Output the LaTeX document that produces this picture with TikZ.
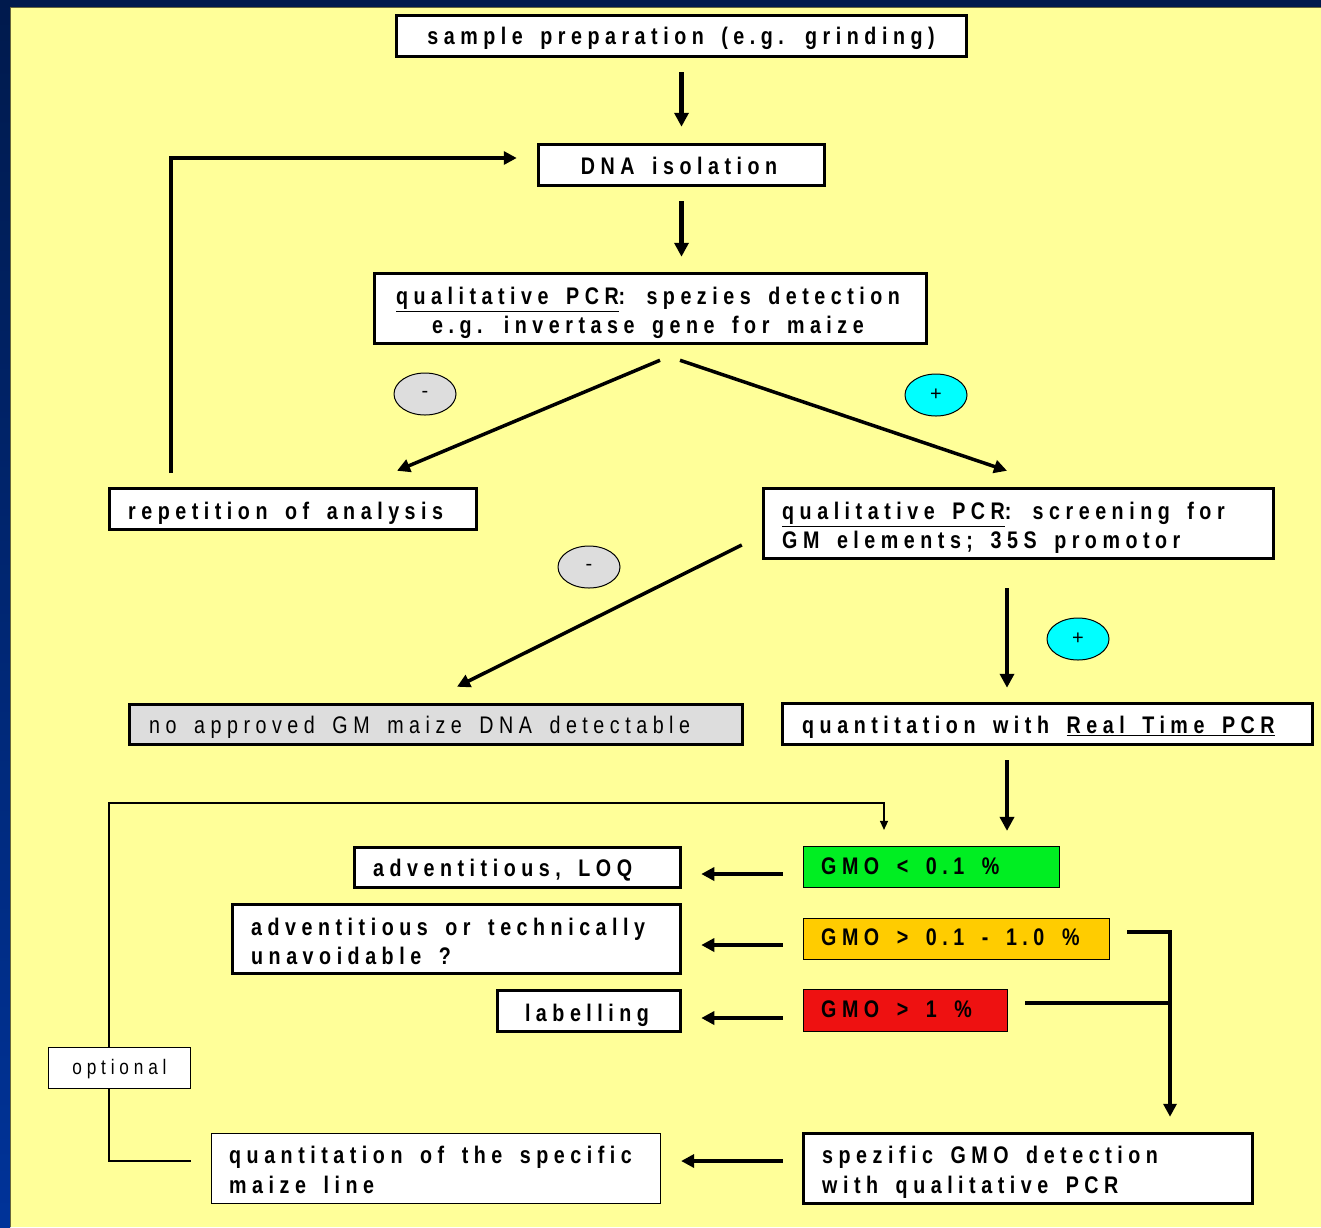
\documentclass[tikz,border=0pt]{standalone}
\usepackage{fontspec}
\setmainfont{Liberation Sans}
\newfontfamily\lsp[FakeStretch=0.82,LetterSpace=23,WordSpace=1.6]{Liberation Sans}
\usetikzlibrary{arrows.meta,shapes.geometric}
\definecolor{bgyellow}{HTML}{FFFF99}
\definecolor{navy}{HTML}{001A4D}
\definecolor{bandblue}{HTML}{003399}
\definecolor{ggreen}{HTML}{00EE22}
\definecolor{gorange}{HTML}{FFCC00}
\definecolor{gred}{HTML}{EE1111}
\definecolor{lgray}{HTML}{DDDDDD}
\definecolor{pcyan}{HTML}{00FFFF}
\tikzset{
  thickbox/.style={draw, line width=3.5pt, fill=white, inner sep=0pt},
  thinbox/.style={draw, line width=1.2pt, fill=white, inner sep=0pt},
  txt/.style={inner sep=0pt, anchor=base west, font=\lsp\bfseries\fontsize{24}{29}\selectfont},
  ctxt/.style={txt, anchor=base},
  rtxt/.style={txt, font=\lsp\fontsize{24}{29}\selectfont},
  sign/.style={ellipse, draw, line width=1pt, minimum width=62pt, minimum height=42pt, inner sep=0pt, font=\fontsize{20}{22}\selectfont},
  arr/.style={line width=4.5pt, -{Triangle[length=14pt,width=14pt]}},
  arrm/.style={line width=3.5pt, -{Triangle[length=13pt,width=13pt]}},
  plainline/.style={line width=3.5pt},
  thinline/.style={line width=1.3pt},
  thinarr/.style={line width=1.3pt, -{Triangle[length=9pt,width=8pt]}},
}
\begin{document}
\begin{tikzpicture}[x=1pt,y=-1pt]
\useasboundingbox (0,0) rectangle (1321,1227);
% background
\fill[bgyellow] (0,0) rectangle (1321,1227);
\fill[navy] (0,0) rectangle (1321,7);
\shade[top color=navy, bottom color=bandblue] (0,0) rectangle (10,1227);
\draw[line width=1pt, color=black!60!bgyellow] (10.5,1227) -- (10.5,7.5) -- (1321,7.5);

% boxes
\node[thickbox, minimum width=570pt, minimum height=41pt] (s) at (681.5,36) {};
\node[thickbox, minimum width=286pt, minimum height=41pt] (d) at (681.5,165) {};
\node[thickbox, minimum width=552pt, minimum height=70pt] (q1) at (650.5,308.5) {};
\node[thickbox, minimum width=367pt, minimum height=41pt] (rep) at (293,509) {};
\node[thickbox, minimum width=510pt, minimum height=70pt] (q2) at (1018.5,523.5) {};
\node[thickbox, fill=lgray, minimum width=613pt, minimum height=40pt] (no) at (436,724.5) {};
\node[thickbox, minimum width=530pt, minimum height=41pt] (rt) at (1047.5,724) {};
\node[thinbox, fill=ggreen, minimum width=256pt, minimum height=41pt] (g1) at (931.5,867) {};
\node[thinbox, fill=gorange, minimum width=306pt, minimum height=41pt] (g2) at (956.5,939) {};
\node[thinbox, fill=gred, minimum width=204pt, minimum height=42pt] (g3) at (905.5,1010.5) {};
\node[thickbox, minimum width=326pt, minimum height=40pt] (a1) at (517.5,867.5) {};
\node[thickbox, minimum width=448pt, minimum height=69pt] (a2) at (456.5,939) {};
\node[thickbox, minimum width=183pt, minimum height=41pt] (lab) at (589,1011) {};
\node[thinbox, minimum width=142pt, minimum height=41pt] (opt) at (119.5,1068) {};
\node[thinbox, minimum width=449pt, minimum height=70pt] (qs) at (436,1168.5) {};
\node[thickbox, minimum width=449pt, minimum height=70pt] (sp) at (1028,1168.5) {};

% texts
\node[ctxt] (ts) at (681,44) {sample preparation (e.g. grinding)};
\node[ctxt] (td) at (679,174.5) {DNA isolation};
\node[ctxt] (tq1a) at (648,304.5) {\underline{qualitative PCR}: spezies detection};
\node[ctxt] (tq1b) at (648,333.5) {e.g. invertase gene for maize};
\node[txt] (trep) at (128,519.5) {repetition of analysis};
\node[txt] (tq2a) at (782,519.5) {\underline{qualitative PCR}: screening for};
\node[txt] (tq2b) at (782,548.5) {GM elements; 35S promotor};
\node[rtxt] (tno) at (149,733.5) {no approved GM maize DNA detectable};
\node[txt] (trt) at (802,733.5) {quantitation with \underline{Real Time PCR}};
\node[txt] (tg1) at (821,874.5) {GMO < 0.1 \%};
\node[txt] (tg2) at (821,945.5) {GMO > 0.1 - 1.0 \%};
\node[txt] (tg3) at (821,1017.5) {GMO > 1 \%};
\node[txt] (ta1) at (373,876.5) {adventitious, LOQ};
\node[txt] (ta2a) at (251,935.5) {adventitious or technically};
\node[txt] (ta2b) at (251,964.5) {unavoidable ?};
\node[ctxt] (tlab) at (587,1021.5) {labelling};
\node[ctxt, font=\lsp\fontsize{21}{25}\selectfont] (topt) at (119.5,1074.5) {optional};
\node[txt] (tqsa) at (229,1163.5) {quantitation of the specific};
\node[txt] (tqsb) at (229,1193.5) {maize line};
\node[txt] (tspa) at (822,1163.5) {spezific GMO detection};
\node[txt] (tspb) at (822,1193.5) {with qualitative PCR};

% signs
\node[sign, fill=lgray] (m1) at (425,394) {-};
\node[sign, fill=pcyan] (p1) at (936,395) {+};
\node[sign, fill=lgray] (m2) at (589,567) {-};
\node[sign, fill=pcyan] (p2) at (1078,639) {+};

% connectors
\draw[arr] ([yshift=-14pt]s.south) -- ([yshift=16pt]d.north);
\draw[arr] ([yshift=-14pt]d.south) -- ([xshift=31pt,yshift=15pt]q1.north);
\coordinate (fb) at (171,473);
\draw[arrm] (fb) |- ([xshift=-20pt,yshift=7pt]d.west);
\draw[arrm] ([xshift=9.5pt,yshift=-15pt]q1.south) -- ([xshift=104pt,yshift=16pt]rep.north);
\draw[arrm] ([xshift=29.5pt,yshift=-15pt]q1.south) -- ([xshift=-11.5pt,yshift=16pt]q2.north);
\draw[arrm] ([xshift=-20pt,yshift=-21.5pt]q2.west) -- ([xshift=21pt,yshift=16pt]no.north);
\draw[arr] ([xshift=-11.5pt,yshift=-28pt]q2.south) -- ([xshift=-40.5pt,yshift=14pt]rt.north);
\draw[arr] ([xshift=-40.5pt,yshift=-14pt]rt.south) -- ([xshift=75.5pt,yshift=15pt]g1.north);
\draw[arrm] ([xshift=-20pt,yshift=-7pt]g1.west) -- ([xshift=19pt,yshift=-6.5pt]a1.east);
\draw[arrm] ([xshift=-20pt,yshift=-6pt]g2.west) -- ([xshift=19pt,yshift=-6pt]a2.east);
\draw[arrm] ([xshift=-20pt,yshift=-7.5pt]g3.west) -- ([xshift=19pt,yshift=-7pt]lab.east);
\draw[arrm] ([xshift=-19pt,yshift=7.5pt]sp.west) -- ([xshift=20pt,yshift=7.5pt]qs.east);
\draw[arrm] ([xshift=17pt,yshift=7pt]g2.east) -| ([xshift=142pt,yshift=15pt]sp.north);
\coordinate (brk) at (1170,1003);
\draw[plainline] ([xshift=17pt,yshift=7.5pt]g3.east) -- (brk);
\draw[thinline] ([xshift=-20pt,yshift=7.5pt]qs.west) -| ([xshift=-10.5pt]opt.south);
\coordinate (tc) at (884,803);
\draw[thinarr] ([xshift=-10.5pt]opt.north) |- (tc) -- ([xshift=-47.5pt,yshift=16pt]g1.north);
\end{tikzpicture}
\end{document}
